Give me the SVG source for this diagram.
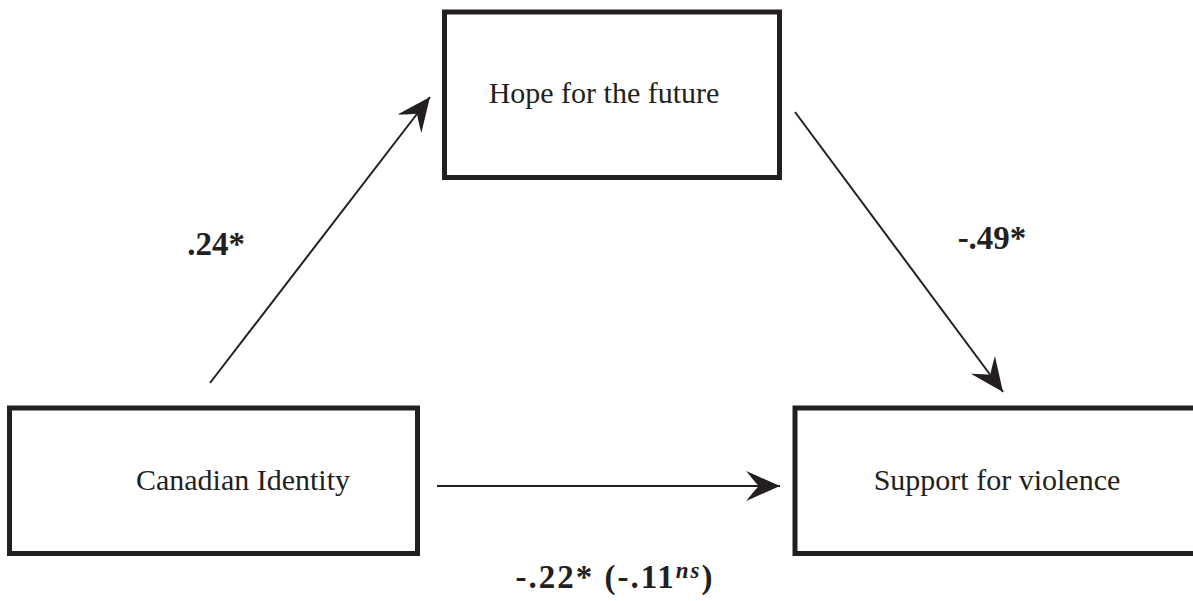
<svg xmlns="http://www.w3.org/2000/svg" width="1193" height="601" viewBox="0 0 1193 601">
  <style>
    .box { fill: #ffffff; stroke: #231f20; stroke-width: 5; }
    .lbl { font-family: "Liberation Serif", "DejaVu Serif", serif; font-size: 30px; fill: #231f20; }
    .coef { font-family: "Liberation Serif", "DejaVu Serif", serif; font-size: 33px; font-weight: bold; fill: #231f20; }
    .conn { stroke: #231f20; stroke-width: 2; fill: none; marker-end: url(#arr); }
  </style>
  <defs>
    <marker id="arr" markerUnits="userSpaceOnUse" markerWidth="40" markerHeight="40" viewBox="-30 -15 32 30" refX="0" refY="0" orient="auto">
      <path d="M0,0 L-27,-12 Q-20,-3 -17,0 Q-20,3 -27,12 Z" fill="#231f20"/>
    </marker>
  </defs>
  <rect width="1193" height="601" fill="#ffffff"/>
  <g id="connectors">
    <line class="conn" x1="210" y1="383" x2="430" y2="97"/>
    <line class="conn" x1="795" y1="112" x2="1003" y2="392"/>
    <line class="conn" x1="437" y1="486" x2="780" y2="486"/>
  </g>
  <g id="hope">
    <rect class="box" x="444.5" y="12" width="335" height="165.5"/>
    <text class="lbl" x="604" y="103" text-anchor="middle">Hope for the future</text>
  </g>
  <g id="canadian">
    <rect class="box" x="9.5" y="408" width="408" height="145.5"/>
    <text class="lbl" x="243" y="490" text-anchor="middle">Canadian Identity</text>
  </g>
  <g id="support">
    <rect class="box" x="795" y="408" width="405" height="145.5"/>
    <text class="lbl" x="997" y="490" text-anchor="middle">Support for violence</text>
  </g>
  <g id="labels">
    <text class="coef" x="216" y="255" text-anchor="middle">.24*</text>
    <text class="coef" x="992" y="249" text-anchor="middle">-.49*</text>
    <text class="coef" x="615" y="588" text-anchor="middle" letter-spacing="2">-.22* (-.11<tspan font-style="italic" font-size="23" dy="-10">ns</tspan><tspan dy="10">)</tspan></text>
  </g>
</svg>
